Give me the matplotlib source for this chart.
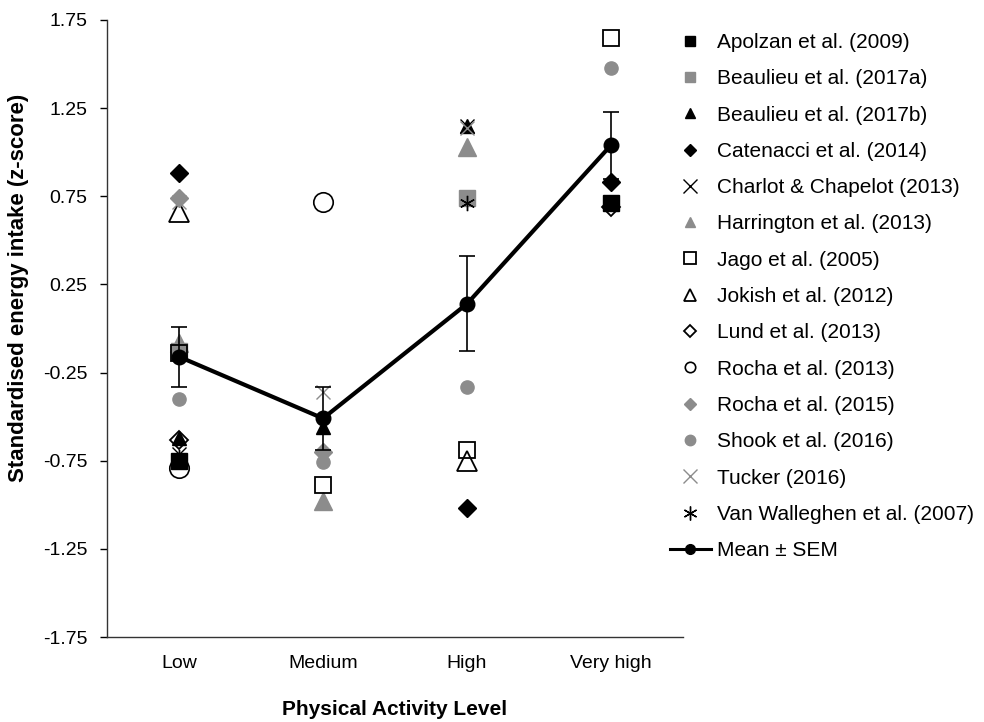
import matplotlib
matplotlib.use("Agg")
import matplotlib.pyplot as plt
from matplotlib.lines import Line2D

plt.rcParams["font.family"] = ["Liberation Sans", "DejaVu Sans"]

categories = ["Low", "Medium", "High", "Very high"]

# z-scores per study: (category index, value)
apolzan_2009 = [(0, -0.75), (3, 0.71)]
beaulieu_2017a = [(0, -0.13), (2, 0.74)]
beaulieu_2017b = [(0, -0.62), (1, -0.56), (2, 1.15)]
catenacci_2014 = [(0, 0.88), (2, -1.02), (3, 0.83)]
charlot_2013 = [(0, -0.71), (2, 1.15)]
harrington_2013 = [(0, -0.08), (1, -0.98), (2, 1.03)]
jago_2005 = [(0, -0.14), (1, -0.89), (2, -0.69), (3, 1.65)]
jokish_2012 = [(0, 0.66), (2, -0.75)]
lund_2013 = [(0, -0.63), (3, 0.69)]
rocha_2013 = [(0, -0.79), (1, 0.72)]
rocha_2015 = [(0, 0.74), (1, -0.70)]
shook_2016 = [(0, -0.40), (1, -0.76), (2, -0.33), (3, 1.48)]
tucker_2016 = [(0, 0.72), (1, -0.36), (2, 1.14)]
van_walleghen_2007 = [(0, -0.73), (2, 0.71)]

mean_values = [-0.16, -0.51, 0.14, 1.04]
sem_values = [0.17, 0.18, 0.27, 0.19]

BLACK = "#000000"
GREY = "#8c8c8c"
ASTERISK = (6, 2, 0)

# label, data, marker, face, edge, plot size, legend size, edge width
studies = [
    ("Apolzan et al. (2009)", apolzan_2009, "s", BLACK, BLACK, 11, 7, 1.0),
    ("Beaulieu et al. (2017a)", beaulieu_2017a, "s", GREY, GREY, 11, 7, 1.0),
    ("Beaulieu et al. (2017b)", beaulieu_2017b, "^", BLACK, BLACK, 9.5, 7.5, 1.0),
    ("Catenacci et al. (2014)", catenacci_2014, "D", BLACK, BLACK, 9, 6, 1.0),
    ("Charlot & Chapelot (2013)", charlot_2013, "x", BLACK, BLACK, 10, 10, 1.0),
    ("Harrington et al. (2013)", harrington_2013, "^", GREY, GREY, 13, 7.5, 1.0),
    ("Jago et al. (2005)", jago_2005, "s", "none", BLACK, 12, 8, 1.3),
    ("Jokish et al. (2012)", jokish_2012, "^", "none", BLACK, 14, 8, 1.3),
    ("Lund et al. (2013)", lund_2013, "D", "none", BLACK, 9, 6, 1.3),
    ("Rocha et al. (2013)", rocha_2013, "o", "none", BLACK, 14, 7.5, 1.2),
    ("Rocha et al. (2015)", rocha_2015, "D", GREY, GREY, 9, 6, 1.0),
    ("Shook et al. (2016)", shook_2016, "o", GREY, GREY, 9.5, 7.5, 1.0),
    ("Tucker (2016)", tucker_2016, "x", GREY, GREY, 10, 10, 1.0),
    ("Van Walleghen et al. (2007)", van_walleghen_2007, ASTERISK, BLACK, BLACK, 11, 10, 1.0),
]

fig = plt.figure(figsize=(9.84, 7.22), dpi=100)
ax = fig.add_axes([107 / 984, 1 - 637 / 722, 576 / 984, 617 / 722])

handles = []
for label, data, marker, face, edge, size, leg_size, mew in studies:
    xs = [c + 0.5 for c, _ in data]
    ys = [v for _, v in data]
    ax.plot(xs, ys, linestyle="none", marker=marker, markersize=size,
            markerfacecolor=face, markeredgecolor=edge, markeredgewidth=mew,
            color=edge, zorder=3)
    handles.append(Line2D([], [], linestyle="none", marker=marker, markersize=leg_size,
                          markerfacecolor=face, markeredgecolor=edge,
                          markeredgewidth=mew, color=edge, label=label))

mean_x = [i + 0.5 for i in range(len(categories))]
ax.errorbar(mean_x, mean_values, yerr=sem_values, fmt="none", ecolor=BLACK,
            elinewidth=1.2, capsize=6, capthick=1.2, zorder=4)
ax.plot(mean_x, mean_values, color=BLACK, linewidth=3, marker="o",
        markersize=10.5, zorder=5)
handles.append(Line2D([], [], color=BLACK, linewidth=2.2, marker="o",
                      markersize=7, label="Mean ± SEM"))

ax.set_xlim(0, 4)
ax.set_ylim(-1.75, 1.75)
ax.set_xticks(mean_x)
ax.set_xticklabels(categories, fontsize=14)
ax.tick_params(axis="x", length=0, pad=13)
yticks = [-1.75, -1.25, -0.75, -0.25, 0.25, 0.75, 1.25, 1.75]
ax.set_yticks(yticks)
ax.set_yticklabels([f"{t:.2f}" for t in yticks], fontsize=14)
ax.tick_params(axis="y", length=5, width=1, direction="out", pad=9)
for side in ("top", "right"):
    ax.spines[side].set_visible(False)
for side in ("left", "bottom"):
    ax.spines[side].set_linewidth(1.0)
    ax.spines[side].set_color("#333333")

ax.set_xlabel("Physical Activity Level", fontsize=15, fontweight="bold", labelpad=20)
ax.set_ylabel("Standardised energy intake (z-score)", fontsize=16, fontweight="bold")
ax.yaxis.set_label_coords(-78 / 576, 0.566)

fig.legend(handles=handles, loc="upper left", bbox_to_anchor=(670 / 984, 1 - 33 / 722),
           frameon=False, fontsize=15, handlelength=1.95, handletextpad=0.3,
           labelspacing=0.83, borderaxespad=0, borderpad=0)

fig.savefig("out.png", dpi=100)
